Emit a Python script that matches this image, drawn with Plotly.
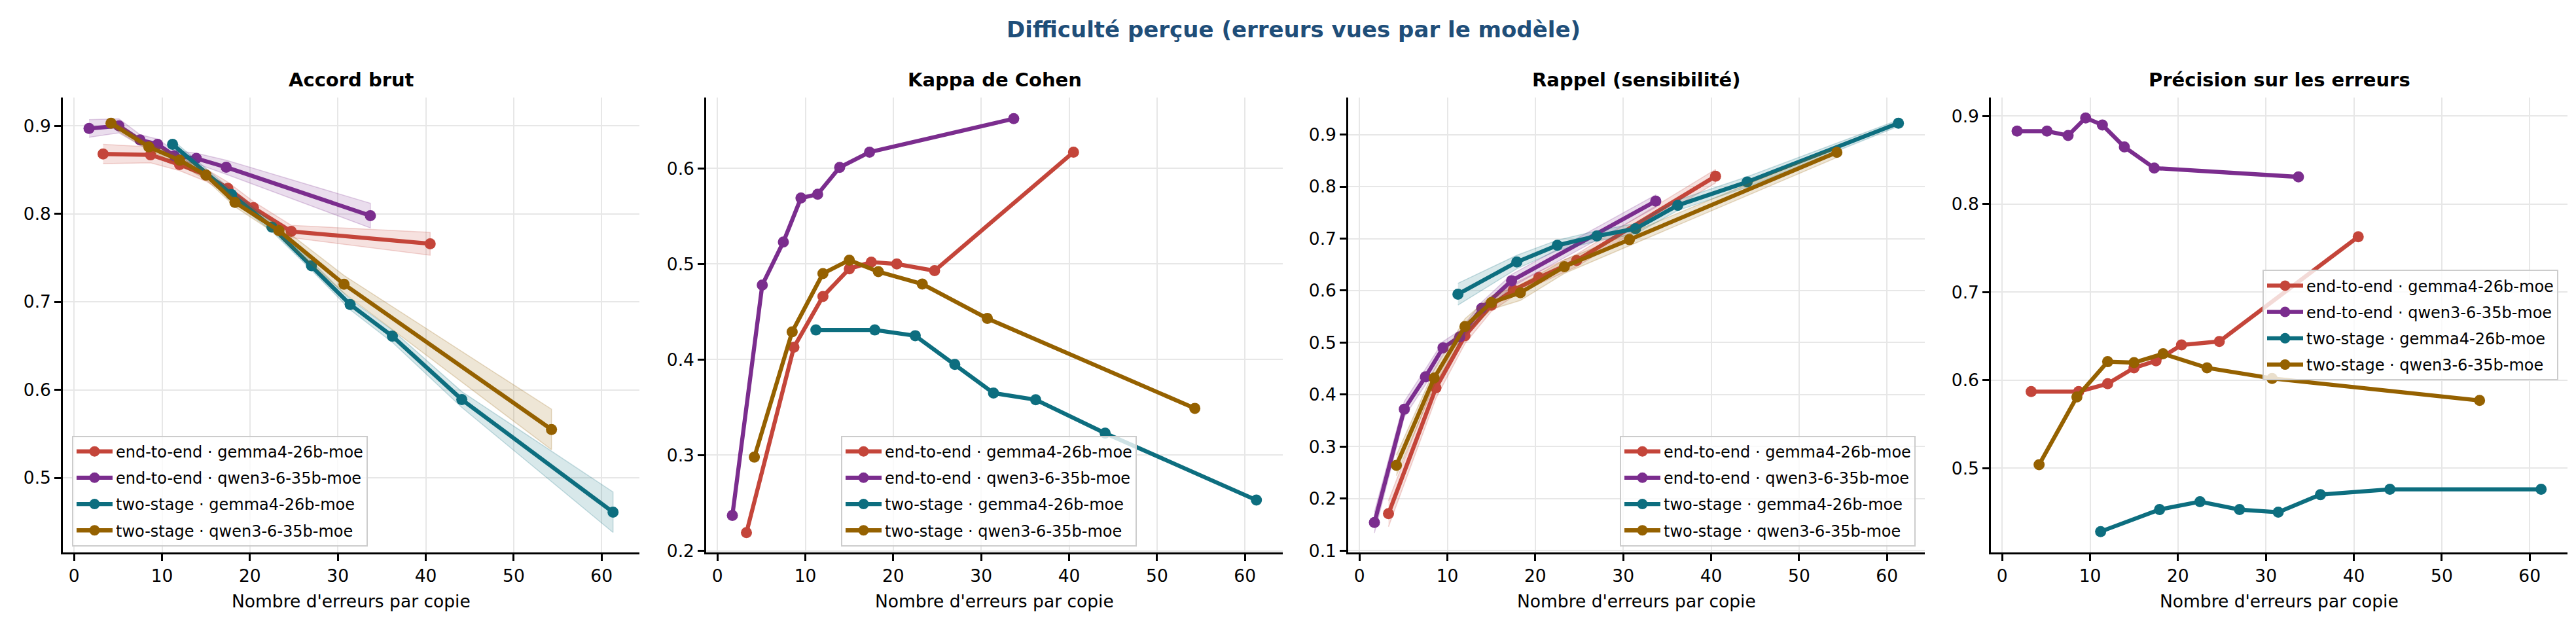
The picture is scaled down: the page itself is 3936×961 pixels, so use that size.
import plotly.graph_objects as go

# ---------------- data ----------------
series_names = [
    "end-to-end · gemma4-26b-moe",
    "end-to-end · qwen3-6-35b-moe",
    "two-stage · gemma4-26b-moe",
    "two-stage · qwen3-6-35b-moe",
]
series_colors = ["#C4453A", "#7B2D8E", "#0D6E7F", "#956100"]
band_rgb = ["196,69,58", "123,45,142", "13,110,127", "149,97,0"]

x_e2e_gemma = [3.3, 8.7, 12.0, 15.0, 17.5, 20.4, 24.7, 40.5]
x_e2e_qwen = [1.7, 5.1, 7.5, 9.5, 11.4, 13.9, 17.3, 33.7]
x_ts_gemma = [11.2, 17.9, 22.5, 27.0, 31.4, 36.2, 44.1, 61.3]
x_ts_qwen = [4.2, 8.5, 12.0, 15.0, 18.3, 23.3, 30.7, 54.3]
x_series = [x_e2e_gemma, x_e2e_qwen, x_ts_gemma, x_ts_qwen]

panel_titles = ["Accord brut", "Kappa de Cohen", "Rappel (sensibilité)", "Précision sur les erreurs"]
x_label = "Nombre d'erreurs par copie"
suptitle = "Difficulté perçue (erreurs vues par le modèle)"

accord = [
    [0.868, 0.867, 0.856, 0.844, 0.829, 0.807, 0.780, 0.766],
    [0.897, 0.900, 0.884, 0.879, 0.866, 0.863, 0.853, 0.798],
    [0.879, 0.822, 0.785, 0.741, 0.697, 0.661, 0.589, 0.461],
    [0.903, 0.876, 0.861, 0.844, 0.813, 0.781, 0.720, 0.555],
]
accord_ci = [
    [0.011, 0.009, 0.007, 0.007, 0.007, 0.007, 0.007, 0.013],
    [0.010, 0.008, 0.006, 0.006, 0.006, 0.006, 0.008, 0.014],
    [0.005, 0.005, 0.005, 0.005, 0.006, 0.007, 0.009, 0.023],
    [0.004, 0.004, 0.005, 0.005, 0.005, 0.006, 0.010, 0.023],
]
kappa = [
    [0.219, 0.413, 0.466, 0.495, 0.502, 0.500, 0.493, 0.617],
    [0.237, 0.478, 0.523, 0.569, 0.573, 0.601, 0.617, 0.652],
    [0.431, 0.431, 0.425, 0.395, 0.365, 0.358, 0.323, 0.253],
    [0.298, 0.429, 0.490, 0.504, 0.492, 0.479, 0.443, 0.349],
]
rappel = [
    [0.171, 0.413, 0.513, 0.572, 0.601, 0.625, 0.658, 0.820],
    [0.154, 0.372, 0.434, 0.490, 0.511, 0.566, 0.619, 0.772],
    [0.593, 0.655, 0.687, 0.705, 0.719, 0.764, 0.809, 0.922],
    [0.264, 0.432, 0.531, 0.577, 0.596, 0.646, 0.698, 0.866],
]
rappel_ci = [
    [0.025, 0.020, 0.015, 0.012, 0.012, 0.012, 0.012, 0.013],
    [0.020, 0.015, 0.015, 0.012, 0.012, 0.012, 0.012, 0.012],
    [0.021, 0.013, 0.010, 0.010, 0.010, 0.010, 0.010, 0.006],
    [0.020, 0.015, 0.015, 0.013, 0.015, 0.013, 0.012, 0.010],
]
precision = [
    [0.587, 0.587, 0.596, 0.614, 0.622, 0.640, 0.644, 0.763],
    [0.883, 0.883, 0.878, 0.898, 0.890, 0.865, 0.841, 0.831],
    [0.428, 0.453, 0.462, 0.453, 0.450, 0.470, 0.476, 0.476],
    [0.504, 0.581, 0.621, 0.620, 0.630, 0.614, 0.602, 0.577],
]

panel_values = [accord, kappa, rappel, precision]
panel_ci = [accord_ci, None, rappel_ci, None]
y_ranges = [[0.415, 0.932], [0.198, 0.674], [0.096, 0.971], [0.404, 0.921]]
x_range = [-1.28, 64.3]
x_ticks = [0, 10, 20, 30, 40, 50, 60]

# ---------------- layout geometry ----------------
W, H = 3936, 961
panel_px = [(88, 969), (1071, 1952), (2052, 2933), (3034, 3915)]
y_top_px, y_bot_px = 143, 847
FONT = "DejaVu Sans"

fig = go.Figure()

legend_specs = [
    dict(x=102 / W, y=1 - 837 / H, xanchor="left", yanchor="bottom"),
    dict(x=1277 / W, y=1 - 837 / H, xanchor="left", yanchor="bottom"),
    dict(x=2919 / W, y=1 - 837 / H, xanchor="right", yanchor="bottom"),
    dict(x=3901 / W, y=1 - 495 / H, xanchor="right", yanchor="middle"),
]

for p in range(4):
    xa = "x" if p == 0 else f"x{p + 1}"
    ya = "y" if p == 0 else f"y{p + 1}"
    leg = "legend" if p == 0 else f"legend{p + 1}"
    for s in range(4):
        xs = x_series[s]
        vals = panel_values[p][s]
        ci = panel_ci[p]
        if ci is not None:
            hw = ci[s]
            up = [v + h for v, h in zip(vals, hw)]
            lo = [v - h for v, h in zip(vals, hw)]
            fig.add_trace(go.Scatter(
                x=xs + xs[::-1], y=up + lo[::-1],
                fill="toself", fillcolor=f"rgba({band_rgb[s]},0.16)",
                line=dict(color=f"rgba({band_rgb[s]},0.22)", width=1.5),
                mode="lines", hoverinfo="skip", showlegend=False,
                xaxis=xa, yaxis=ya,
            ))
        fig.add_trace(go.Scatter(
            x=xs, y=vals, mode="lines+markers", name=series_names[s],
            line=dict(color=series_colors[s], width=6.3),
            marker=dict(color=series_colors[s], size=17),
            xaxis=xa, yaxis=ya, legend=leg, legendgroup=f"p{p}s{s}",
        ))

layout = dict(
    width=W, height=H,
    margin=dict(l=0, r=0, t=0, b=0),
    paper_bgcolor="white", plot_bgcolor="white",
    font=dict(family=FONT, size=26.5, color="black"),
    showlegend=True,
    annotations=[],
)

axis_common = dict(
    showline=True, linecolor="black", linewidth=2.5,
    ticks="outside", ticklen=10, tickwidth=2.5, tickcolor="black",
    showgrid=True, gridcolor="#e7e7e7", gridwidth=1.5,
    zeroline=False, mirror=False,
    tickfont=dict(family=FONT, size=26.5, color="black"),
)

for p in range(4):
    x0, x1 = panel_px[p]
    xkey = "xaxis" if p == 0 else f"xaxis{p + 1}"
    ykey = "yaxis" if p == 0 else f"yaxis{p + 1}"
    xa = "x" if p == 0 else f"x{p + 1}"
    ya = "y" if p == 0 else f"y{p + 1}"
    layout[xkey] = dict(
        axis_common, domain=[x0 / W, x1 / W], range=x_range,
        tickmode="array", tickvals=x_ticks, anchor=ya,
    )
    layout[ykey] = dict(
        axis_common, domain=[1 - y_bot_px / H, 1 - y_top_px / H],
        range=y_ranges[p], tick0=0, dtick=0.1, tickformat=".1f", anchor=xa,
    )
    lkey = "legend" if p == 0 else f"legend{p + 1}"
    layout[lkey] = dict(
        legend_specs[p],
        bgcolor="rgba(255,255,255,0.8)", bordercolor="#cccccc", borderwidth=2,
        font=dict(family=FONT, size=24, color="black"),
        traceorder="grouped", tracegroupgap=6, itemwidth=55,
    )
    cx = (x0 + x1) / 2 / W
    layout["annotations"].append(dict(
        text=f"<b>{panel_titles[p]}</b>", x=cx, y=1 - 115 / H,
        xref="paper", yref="paper", xanchor="center", yanchor="middle",
        showarrow=False, font=dict(family=FONT, size=29, color="black"),
    ))
    layout["annotations"].append(dict(
        text=x_label, x=cx, y=1 - 922 / H,
        xref="paper", yref="paper", xanchor="center", yanchor="middle",
        showarrow=False, font=dict(family=FONT, size=26.5, color="black"),
    ))

layout["annotations"].append(dict(
    text=f"<b>{suptitle}</b>", x=0.5, y=1 - 37 / H,
    xref="paper", yref="paper", xanchor="center", yanchor="middle",
    showarrow=False, font=dict(family=FONT, size=34, color="#1F4E79"),
))

fig.update_layout(layout)
fig.write_html("out.html")
